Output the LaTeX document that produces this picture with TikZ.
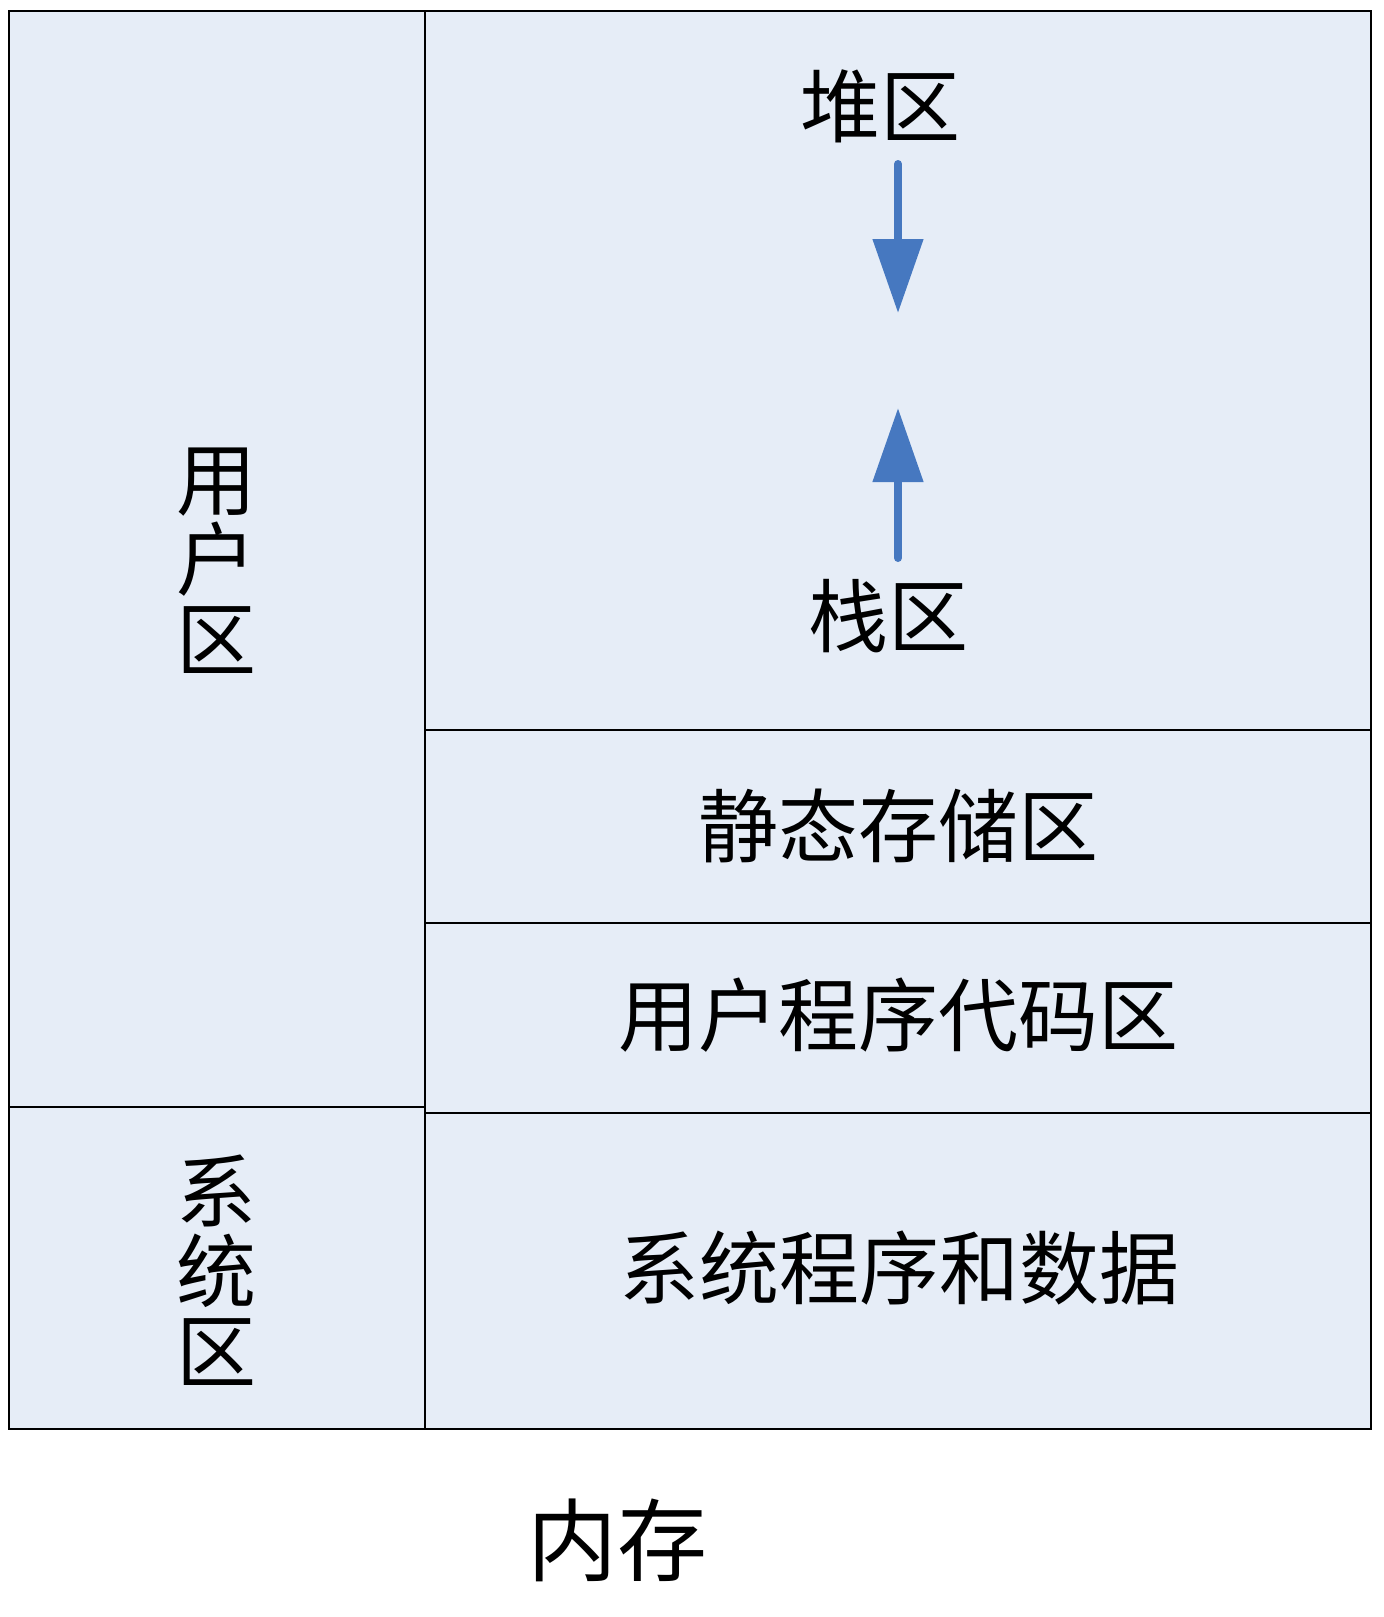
\documentclass[tikz,border=0pt]{standalone}
\usepackage{fontspec}
\newfontfamily\cjk{Noto Sans CJK SC}
\usetikzlibrary{arrows.meta}
\definecolor{cellfill}{RGB}{230,237,247}
\definecolor{arrowblue}{RGB}{70,120,192}
\begin{document}
\begin{tikzpicture}[x=1pt,y=-1pt,
  cell/.style={draw=black,line width=1.3pt,fill=cellfill,rectangle,inner sep=0pt,outer sep=0pt,anchor=north west},
  lbl/.style={font=\cjk\fontsize{80}{80}\selectfont,inner sep=0pt,align=center},
  biglbl/.style={font=\cjk\fontsize{90}{96}\selectfont,inner sep=0pt},
  growarrow/.style={draw=arrowblue,line width=8pt,line cap=round,-{Triangle[width=49pt,length=74pt]}}]
\useasboundingbox (0,0) rectangle (1384,1617);
\fill[white] (0,0) rectangle (1384,1617);
% cells
\node[cell,minimum width=416pt,minimum height=1096pt] (user) at (9,11) {};
\node[cell,minimum width=416pt,minimum height=322pt] (sys) at (9,1107) {};
\node[cell,minimum width=946pt,minimum height=719pt] (heap) at (425,11) {};
\node[cell,minimum width=946pt,minimum height=193pt] (static) at (425,730) {};
\node[cell,minimum width=946pt,minimum height=190pt] (code) at (425,923) {};
\node[cell,minimum width=946pt,minimum height=316pt] (sysdata) at (425,1113) {};
% labels
\node[lbl] (heaplbl) at (880,106) {堆区};
\node[lbl] (stacklbl) at (888,616) {栈区};
\node[lbl] (staticlbl) at (898,826) {静态存储区};
\node[lbl] (codelbl) at (898,1015) {用户程序代码区};
\node[lbl] (sysdatalbl) at (899,1268) {系统程序和数据};
\node[lbl] (userlbl) at (216,561) {用\\户\\区};
\node[lbl] (syslbl) at (216,1270) {系\\统\\区};
\node[biglbl] (memlbl) at (617,1540) {内存};
% arrows
\coordinate (hs) at (898,164);
\coordinate (ht) at (898,313);
\coordinate (ss) at (898,558);
\coordinate (st) at (898,408);
\draw[growarrow] (hs) -- (ht);
\draw[growarrow] (ss) -- (st);
\end{tikzpicture}
\end{document}
